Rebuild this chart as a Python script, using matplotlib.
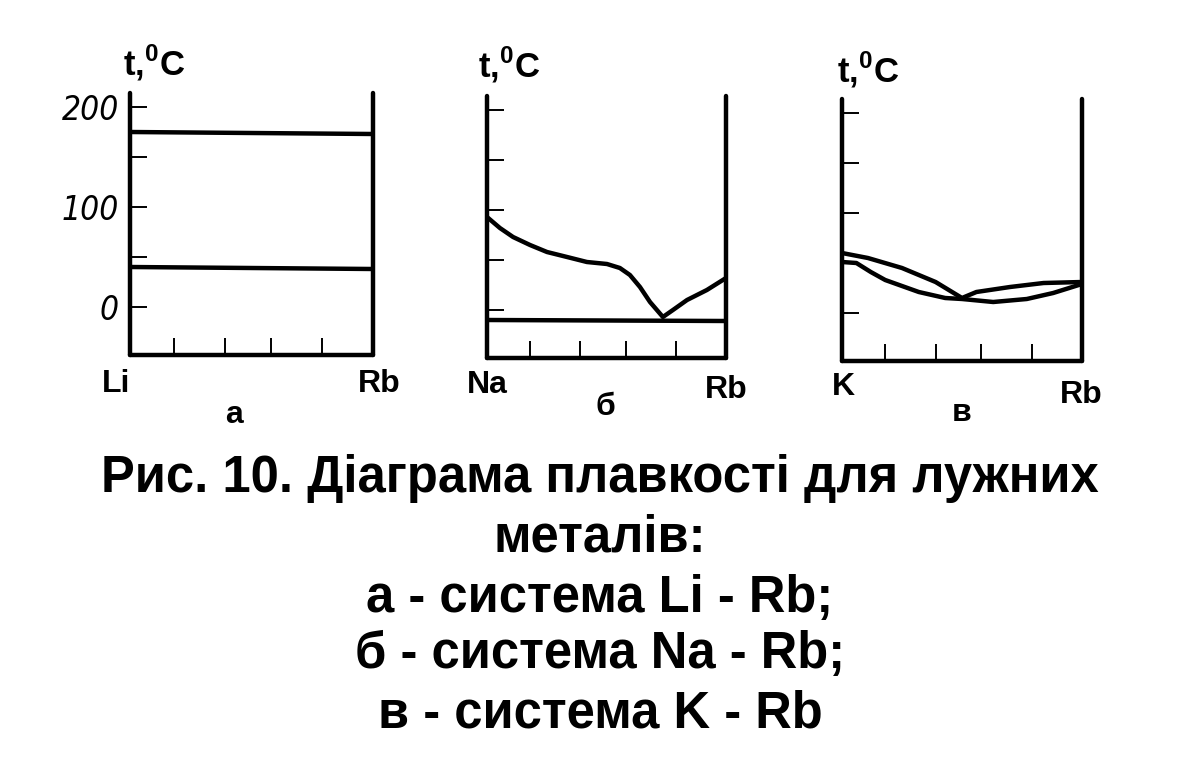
import matplotlib
matplotlib.use("Agg")
import matplotlib.pyplot as plt

W, H = 1180, 772

# panel a: Li - Rb (two horizontal lines)
li_rb_x = [0, 1]
li_rb_li = [175, 173]
li_rb_rb = [40, 38]

# panel b: Na - Rb
na_rb_x = [0, 0.054, 0.109, 0.18, 0.251, 0.335, 0.418, 0.502, 0.556, 0.598,
           0.64, 0.682, 0.736, 0.778, 0.837, 0.92, 1.0]
na_rb_liq = [93, 82, 73, 65, 58, 53, 48, 46, 42, 35, 23, 8, -7, 0, 10, 20, 32]
na_rb_eut = [-10, -11]

# panel c: K - Rb
k_rb_x_liq = [0, 0.108, 0.25, 0.39, 0.50, 0.56, 0.70, 0.84, 1.0]
k_rb_liq = [60, 55, 45, 31, 15, 21, 26, 30, 31]
k_rb_x_sol = [0, 0.06, 0.12, 0.18, 0.32, 0.43, 0.50, 0.63, 0.77, 0.88, 1.0]
k_rb_sol = [51, 50, 41, 33, 21, 15, 14, 11, 14, 20, 29]

y_ticks = [0, 50, 100, 150, 200]
y_labels = ['0', '', '100', '', '200']
x_ticks = [0.18, 0.39, 0.58, 0.79]

plt.rcParams['mathtext.fontset'] = 'custom'
plt.rcParams['mathtext.bf'] = 'Liberation Sans:bold'
plt.rcParams['mathtext.rm'] = 'Liberation Sans:bold'

fig = plt.figure(figsize=(W / 100, H / 100), dpi=100)
fig.patch.set_facecolor('white')


def px(x, y):
    return x / W, 1 - y / H


def make_axes(left, right, zero):
    bottom = zero + 48
    top = zero - 214
    ax = fig.add_axes([left / W, 1 - bottom / H, (right - left) / W, (bottom - top) / H])
    ax.set_xlim(0, 1)
    ax.set_ylim(-48, 214)
    ax.spines['top'].set_visible(False)
    for s in ['left', 'right', 'bottom']:
        ax.spines[s].set_linewidth(3.2)
        ax.spines[s].set_capstyle('round')
    ax.set_xticks(x_ticks)
    ax.set_xticklabels([])
    ax.set_yticks(y_ticks)
    ax.tick_params(direction='in', length=12.5, width=1.4, pad=8)
    ax.tick_params(axis='y', right=False)
    ax.patch.set_alpha(0)
    return ax


lw = 3.2
axa = make_axes(130, 373, 307)
axa.plot(li_rb_x, li_rb_li, color='black', lw=lw)
axa.plot(li_rb_x, li_rb_rb, color='black', lw=lw)
axa.set_yticklabels(y_labels, family='DejaVu Sans', style='italic',
                    fontstretch='condensed', fontsize=24)

axb = make_axes(487, 726, 310)
axb.plot(na_rb_x, na_rb_liq, color='black', lw=lw, solid_joinstyle='round')
axb.plot([0, 1], na_rb_eut, color='black', lw=lw)
axb.set_yticklabels([])

axc = make_axes(842, 1082, 313)
axc.plot(k_rb_x_liq, k_rb_liq, color='black', lw=lw, solid_joinstyle='round')
axc.plot(k_rb_x_sol, k_rb_sol, color='black', lw=lw, solid_joinstyle='round')
axc.set_yticklabels([])

bold = dict(family=['Liberation Sans', 'DejaVu Sans'], weight='bold', color='black')

# axis titles
for x, y in [(123, 75), (478, 77), (837, 82)]:
    fig.text(*px(x, y), r't,$^{\mathbf{0}}$C', fontsize=25, ha='left', va='baseline', **bold)

# element labels
for x, y, s in [(102, 392, 'Li'), (358, 392, 'Rb'), (467, 393, 'Na'), (705, 398, 'Rb'),
                (832, 395, 'K'), (1060, 403, 'Rb')]:
    fig.text(*px(x, y), s, fontsize=23, ha='left', va='baseline', **bold)

# panel letters
for x, y, s in [(234, 423, 'а'), (605, 415, 'б'), (962, 421, 'в')]:
    fig.text(*px(x, y), s, fontsize=23, ha='center', va='baseline', **bold)

caption = ['Рис. 10. Діаграма плавкості для лужних',
           'металів:',
           'а - система Li - Rb;',
           'б - система Na - Rb;',
           'в - система K - Rb']
for y, s in zip([492, 552, 612, 668, 727], caption):
    fig.text(*px(600, y), s, fontsize=36.5, ha='center', va='baseline', **bold)

fig.savefig('out.png', dpi=100, facecolor='white')
